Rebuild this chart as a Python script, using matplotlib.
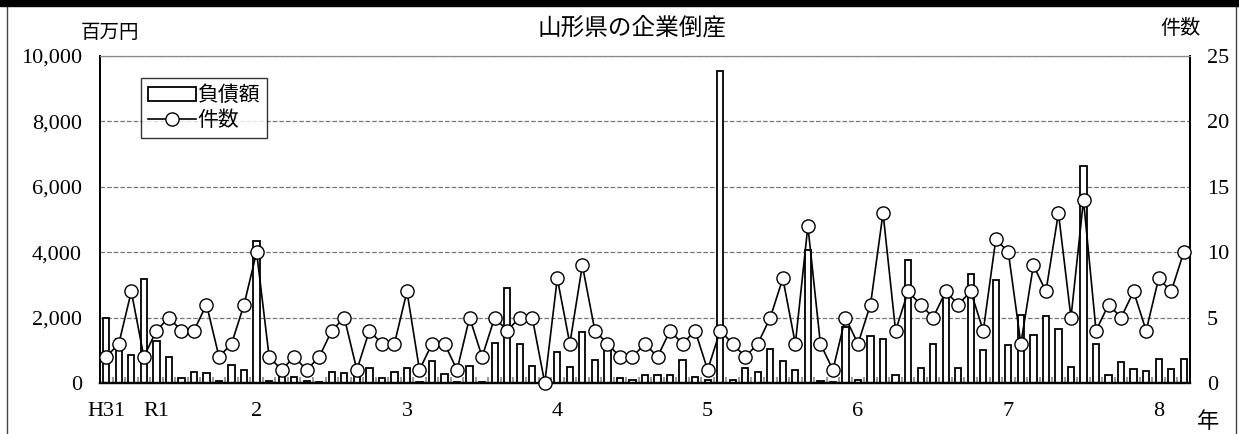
import numpy as np
import matplotlib.pyplot as plt
from matplotlib.lines import Line2D
from matplotlib.patches import Rectangle

plt.rcParams['font.family'] = ['Liberation Serif', 'Noto Sans CJK JP', 'DejaVu Sans']

# 月次データ 2019年1月(H31) ～ 2026年3月(R8)
debt = [
    1980, 1350, 850, 3180, 1270, 780, 140, 350, 300, 55, 550, 400,       # 2019
    4350, 70, 235, 195, 50, 30, 335, 305, 430, 460, 145, 340,            # 2020
    460, 30, 670, 270, 30, 510, 30, 1210, 2890, 1180, 530, 0,            # 2021
    960, 480, 1560, 695, 1080, 145, 80, 255, 235, 235, 695, 185,         # 2022
    85, 9550, 90, 470, 345, 1030, 685, 400, 4070, 70, 20, 1720,          # 2023
    90, 1450, 1335, 245, 3760, 470, 1180, 2780, 455, 3330, 995, 3135,    # 2024
    1150, 2090, 1460, 2040, 1660, 480, 6650, 1190, 255, 630, 430, 380,   # 2025
    745, 430, 725,                                                       # 2026
]
counts = [
    2, 3, 7, 2, 4, 5, 4, 4, 6, 2, 3, 6,
    10, 2, 1, 2, 1, 2, 4, 5, 1, 4, 3, 3,
    7, 1, 3, 3, 1, 5, 2, 5, 4, 5, 5, 0,
    8, 3, 9, 4, 3, 2, 2, 3, 2, 4, 3, 4,
    1, 4, 3, 2, 3, 5, 8, 3, 12, 3, 1, 5,
    3, 6, 13, 4, 7, 6, 5, 7, 6, 7, 4, 11,
    10, 3, 9, 7, 13, 5, 14, 4, 6, 5, 7, 4,
    8, 7, 10,
]
year_labels = ['H31', 'R1', '2', '3', '4', '5', '6', '7', '8']
year_label_idx = [0, 4, 12, 24, 36, 48, 60, 72, 84]

x = np.arange(len(debt))

fig = plt.figure(figsize=(12.39, 4.34), dpi=100)
ax = fig.add_axes([100/1239, 51/434, 1090/1239, 327/434])
ax2 = ax.twinx()

# 棒（負債額）
ax.bar(x, debt, width=0.5, color='white', edgecolor='black', linewidth=1.3,
       label='負債額', zorder=2)
ax.set_xlim(-0.5, len(debt) - 0.5)
ax.set_ylim(0, 10000)
ax.set_yticks(range(0, 10001, 2000))
ax.set_yticklabels([f'{v:,}' for v in range(0, 10001, 2000)])
ax.yaxis.grid(True, linestyle='--', color='#777777', linewidth=0.9, zorder=0)
ax.set_axisbelow(True)

# 折れ線（件数）
ax2.plot(x, counts, color='black', linewidth=1.2, marker='o', markersize=9.5,
         markerfacecolor='white', markeredgecolor='black', markeredgewidth=1.0,
         label='件数', zorder=3, clip_on=False)
ax2.set_ylim(0, 25)
ax2.set_yticks(range(0, 26, 5))

ax.set_xticks(year_label_idx)
ax.set_xticklabels(year_labels)
ax.set_xticks(np.arange(-0.5, len(debt), 1), minor=True)
ax.tick_params(axis='x', which='major', length=0, pad=14, labelsize=16)
ax.tick_params(axis='x', which='minor', direction='in', length=4, color='#888888', width=1.2)
ax.tick_params(axis='y', length=0, pad=13, labelsize=16)
ax2.tick_params(axis='y', length=0, pad=12, labelsize=16)

for a in (ax, ax2):
    a.spines['top'].set_color('#888888')
    a.spines['left'].set_linewidth(1.3)
    a.spines['right'].set_linewidth(1.3)
    a.spines['bottom'].set_linewidth(1.6)

# 凡例
h1, l1 = ax.get_legend_handles_labels()
h2, l2 = ax2.get_legend_handles_labels()
leg = ax2.legend(h1 + h2, l1 + l2, loc='upper left', bbox_to_anchor=(0.038, 0.933),
                 borderaxespad=0, frameon=True, fancybox=False, edgecolor='black',
                 handlelength=2.3, handletextpad=0.1, borderpad=0.3, labelspacing=0.15,
                 prop={'family': ['Noto Sans CJK JP'], 'size': 15})
leg.get_frame().set_linewidth(1.0)

# 文字
fig.text(632/1239, 1 - 28/434, '山形県の企業倒産', ha='center', va='center', fontsize=17)
fig.text(110/1239, 1 - 33/434, '百万円', ha='center', va='center', fontsize=14)
fig.text(1180/1239, 1 - 30/434, '件数', ha='center', va='center', fontsize=14.5)
fig.text(1208/1239, 1 - 423/434, '年', ha='center', va='center', fontsize=16)

# 外枠
fig.add_artist(Rectangle((0, 1 - 6/434), 1, 6/434, transform=fig.transFigure,
                         color='black', zorder=5))
fig.add_artist(Line2D([7/1239, 7/1239], [0, 1 - 6/434], transform=fig.transFigure,
                      color='#444444', linewidth=1.0))
fig.add_artist(Line2D([1236/1239, 1236/1239], [0, 1 - 6/434], transform=fig.transFigure,
                      color='#444444', linewidth=1.0))

fig.savefig('out.png', dpi=100)
